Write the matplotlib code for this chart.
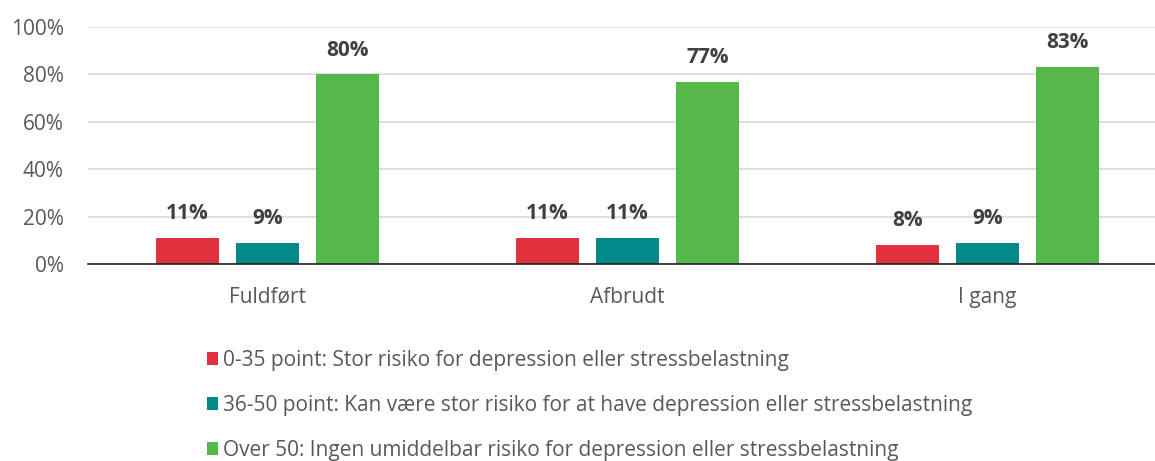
import matplotlib
matplotlib.use("Agg")
import matplotlib.pyplot as plt
import numpy as np

categories = ["Fuldført", "Afbrudt", "I gang"]
series_labels = [
    "0-35 point: Stor risiko for depression eller stressbelastning",
    "36-50 point: Kan være stor risiko for at have depression eller stressbelastning",
    "Over 50: Ingen umiddelbar risiko for depression eller stressbelastning",
]
values_low = [11, 11, 8]
values_mid = [9, 11, 9]
values_high = [80, 77, 83]
colors = ["#E2323D", "#028A8A", "#56B74A"]
y_ticks = [0, 20, 40, 60, 80, 100]

plt.rcParams['font.family'] = ['Open Sans', 'DejaVu Sans']

W, H = 1155, 461
fig = plt.figure(figsize=(W / 100, H / 100), dpi=100)
ax = fig.add_axes([87.5 / W, (H - 264) / H, 1080 / W, (264 - 27) / H])

x = np.arange(len(categories))
width = 0.175
pitch = 0.222
all_vals = [values_low, values_mid, values_high]
for i, (vals, col, lab) in enumerate(zip(all_vals, colors, series_labels)):
    bars = ax.bar(x + (i - 1) * pitch, vals, width, color=col, label=lab, zorder=3)
    for b, v in zip(bars, vals):
        ax.annotate(f"{v}%", (b.get_x() + b.get_width() / 2, v),
                    xytext=(0, 17.5), textcoords="offset points",
                    ha="center", va="center", fontsize=15,
                    fontweight="bold", color="#404040")

ax.set_xlim(-0.5, len(categories) - 0.5)
ax.set_ylim(0, 100)
ax.set_yticks(y_ticks)
ax.set_yticklabels([f"{t}%" for t in y_ticks])
ax.set_xticks(x)
ax.set_xticklabels(categories)
ax.tick_params(axis="both", length=0, labelsize=15, labelcolor="#595959")
ax.tick_params(axis="y", pad=17)
ax.tick_params(axis="x", pad=16.5)
ax.grid(axis="y", color="#D9D9D9", linewidth=1.2, zorder=0)
for s in ["top", "right", "left"]:
    ax.spines[s].set_visible(False)
ax.spines["bottom"].set_color("#222222")
ax.spines["bottom"].set_linewidth(1.2)
ax.spines["bottom"].set_zorder(4)

handles, labels = ax.get_legend_handles_labels()
leg = fig.legend(handles, labels, loc="upper left",
                 bbox_to_anchor=(207 / W, 1 - 350 / H),
                 frameon=False, fontsize=15, labelcolor="#595959",
                 handlelength=0.55, handleheight=0.55, handletextpad=0.2,
                 labelspacing=1.15, borderpad=0, borderaxespad=0)

fig.savefig("out.png", dpi=100)
